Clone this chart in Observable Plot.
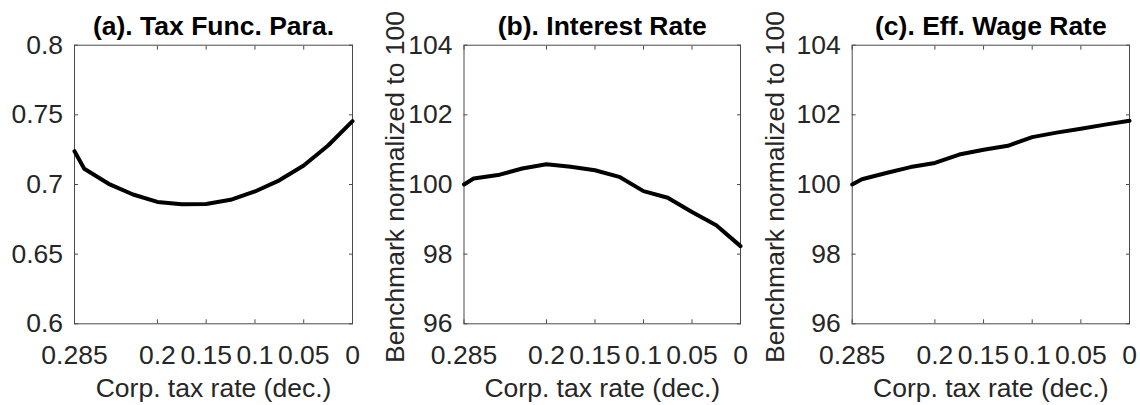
<!DOCTYPE html>
<html>
<head>
<meta charset="utf-8">
<script src="https://cdn.jsdelivr.net/npm/d3@7"></script>
<script src="https://cdn.jsdelivr.net/npm/@observablehq/plot@0.6"></script>
<style>
  body { margin: 0; background: #fff; }
  #row { display: flex; width: 1140px; height: 405px; }
  #row svg { flex: none; }
</style>
</head>
<body>
<div id="row"></div>
<script>
// Corporate tax rate grid (decimal), from the benchmark 0.285 down to 0
const corpTaxRate = [0.285, 0.275, 0.25, 0.225, 0.2, 0.175, 0.15, 0.125, 0.1, 0.075, 0.05, 0.025, 0];

// (a) tax function parameter
const taxFuncPara = [0.7239, 0.7113, 0.7005, 0.6928, 0.6875, 0.6858, 0.6860, 0.6890, 0.6950, 0.7030, 0.7136, 0.7280, 0.7455];
// (b) interest rate, benchmark = 100
const interestRate = [100.0, 100.17, 100.27, 100.46, 100.58, 100.51, 100.41, 100.22, 99.81, 99.62, 99.21, 98.83, 98.23];
// (c) effective wage rate, benchmark = 100
const effWageRate = [100.0, 100.15, 100.33, 100.5, 100.62, 100.86, 101.0, 101.11, 101.36, 101.49, 101.6, 101.72, 101.83];

const xTicks = [0.285, 0.2, 0.15, 0.1, 0.05, 0];
const yTicksA = [0.6, 0.65, 0.7, 0.75, 0.8];
const yTicksIndex = [96, 98, 100, 102, 104];

const titles = ["(a). Tax Func. Para.", "(b). Interest Rate", "(c). Eff. Wage Rate"];
const xLabel = "Corp. tax rate (dec.)";
const yLabelIndex = "Benchmark normalized to 100";

const FONT = "Arial, 'Liberation Sans', Helvetica, sans-serif";
const FS = 26.5;
const INK = "#262626";
const AXIS = "#4a4a4a";
const plain = d => String(d);

function panel({values, yDomain, yTicks, title, yLabel, marginLeft, marginRight}) {
  const data = corpTaxRate.map((x, i) => ({x, y: values[i]}));
  const marks = [
    Plot.frame({stroke: AXIS, strokeWidth: 1}),
    // inward ticks on all four sides, labels only on bottom and left
    Plot.axisX({anchor: "bottom", ticks: xTicks, tickFormat: plain, tickSize: -4, tickPadding: 25.5,
      label: null, stroke: AXIS, fill: INK, fontSize: FS}),
    Plot.axisX({anchor: "top", ticks: xTicks, tickSize: -4, label: null, tickFormat: () => "",
      stroke: AXIS}),
    Plot.axisY({anchor: "left", ticks: yTicks, tickFormat: plain, tickSize: -4, tickPadding: 15.5,
      label: null, stroke: AXIS, fill: INK, fontSize: FS}),
    Plot.axisY({anchor: "right", ticks: yTicks, tickSize: -4, label: null, tickFormat: () => "",
      stroke: AXIS}),
    Plot.line(data, {x: "x", y: "y", stroke: "#000", strokeWidth: 4, strokeLinejoin: "round"}),
    Plot.text([title], {frameAnchor: "top", lineAnchor: "bottom", dy: -10.7, text: d => d,
      fontSize: FS, fontWeight: "bold", fill: "#000"}),
    Plot.text([xLabel], {frameAnchor: "bottom", lineAnchor: "bottom", dy: 72.7, text: d => d,
      fontSize: FS, fill: INK})
  ];
  if (yLabel) {
    marks.push(Plot.text([yLabel], {frameAnchor: "left", textAnchor: "middle", lineAnchor: "bottom",
      rotate: -90, dx: 23.3 - marginLeft, dy: 2.5, text: d => d, fontSize: FS, fill: INK}));
  }
  return Plot.plot({
    width: 380,
    height: 405,
    marginTop: 44.7,
    marginBottom: 81.7,
    marginLeft,
    marginRight,
    style: {fontFamily: FONT, fontSize: FS + "px", background: "#fff", overflow: "visible"},
    x: {domain: [0.285, 0]},
    y: {domain: yDomain},
    marks
  });
}

const row = document.getElementById("row");
row.append(
  panel({values: taxFuncPara, yDomain: [0.6, 0.8], yTicks: yTicksA, title: titles[0],
    yLabel: null, marginLeft: 74, marginRight: 28}),
  panel({values: interestRate, yDomain: [96, 104], yTicks: yTicksIndex, title: titles[1],
    yLabel: yLabelIndex, marginLeft: 83.5, marginRight: 20}),
  panel({values: effWageRate, yDomain: [96, 104], yTicks: yTicksIndex, title: titles[2],
    yLabel: yLabelIndex, marginLeft: 91.7, marginRight: 11})
);
</script>
</body>
</html>
